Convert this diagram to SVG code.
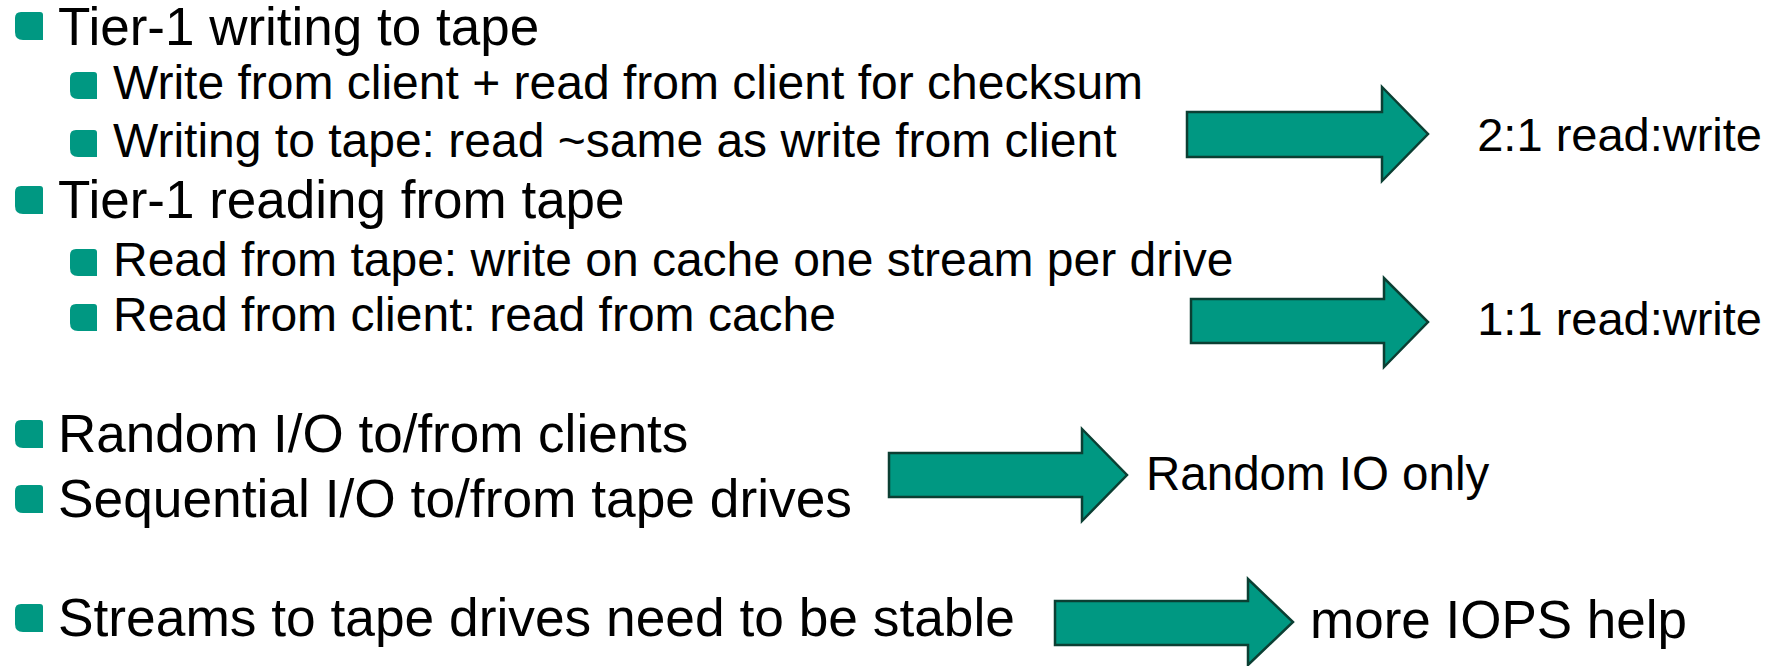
<svg xmlns="http://www.w3.org/2000/svg" width="1779" height="666" viewBox="0 0 1779 666">
<defs>
<style>
.t1{font-family:"Liberation Sans",Arial,sans-serif;font-size:53px;fill:#000}
.t2{font-family:"Liberation Sans",Arial,sans-serif;font-size:48px;fill:#000}
.t3{font-family:"Liberation Sans",Arial,sans-serif;font-size:47px;fill:#000}
.b{fill:#009882}
.arr{fill:#009882;stroke:#0b3f33;stroke-width:2.5;stroke-linejoin:miter}
</style>
<path id="b1" d="M6,0 H25 Q28,0 28,3 V28 H8 Q0,28 0,20 V6 Q0,0 6,0 Z"/>
<path id="b2" d="M6,0 H24 Q27,0 27,3 V27 H8 Q0,27 0,19 V6 Q0,0 6,0 Z"/>
</defs>
<rect width="1779" height="666" fill="#fff"/>
<g id="item-tier1-writing">
<use href="#b1" class="b" x="15" y="12"/>
<text class="t1" x="58" y="45">Tier-1 writing to tape</text>
</g>
<g id="item-write-client">
<use href="#b2" class="b" x="70" y="72"/>
<text class="t2" x="113" y="99">Write from client + read from client for checksum</text>
</g>
<g id="item-writing-tape">
<use href="#b2" class="b" x="70" y="130"/>
<text class="t2" x="113" y="157">Writing to tape: read ~same as write from client</text>
</g>
<g id="item-tier1-reading">
<use href="#b1" class="b" x="15" y="186"/>
<text class="t1" x="58" y="218">Tier-1 reading from tape</text>
</g>
<g id="item-read-tape">
<use href="#b2" class="b" x="70" y="249"/>
<text class="t2" x="113" y="276">Read from tape: write on cache one stream per drive</text>
</g>
<g id="item-read-client">
<use href="#b2" class="b" x="70" y="304"/>
<text class="t2" x="113" y="331">Read from client: read from cache</text>
</g>
<g id="item-random">
<use href="#b1" class="b" x="15" y="420"/>
<text class="t1" x="58" y="452">Random I/O to/from clients</text>
</g>
<g id="item-sequential">
<use href="#b1" class="b" x="15" y="485"/>
<text class="t1" x="58" y="517" style="font-size:53.3px">Sequential I/O to/from tape drives</text>
</g>
<g id="item-streams">
<use href="#b1" class="b" x="15" y="604"/>
<text class="t1" x="58" y="636" style="font-size:53.3px">Streams to tape drives need to be stable</text>
</g>
<g id="connectors">
<path class="arr" d="M1187,112 H1382 V87 L1428,134 L1382,181 V157 H1187 Z"/>
<path class="arr" d="M1191,299 H1384 V278 L1428,322 L1384,367 V343 H1191 Z"/>
<path class="arr" d="M889,453 H1082 V429 L1127,475 L1082,521 V497 H889 Z"/>
<path class="arr" d="M1055,601 H1248 V579 L1293,622 L1248,665 V645 H1055 Z"/>
</g>
<g id="label-2to1"><text class="t3" x="1762" y="151" text-anchor="end">2:1 read:write</text></g>
<g id="label-1to1"><text class="t3" x="1762" y="335" text-anchor="end">1:1 read:write</text></g>
<g id="label-random"><text class="t3" x="1146" y="490" style="font-size:47.5px">Random IO only</text></g>
<g id="label-iops"><text class="t1" x="1310" y="638">more IOPS help</text></g>
</svg>
